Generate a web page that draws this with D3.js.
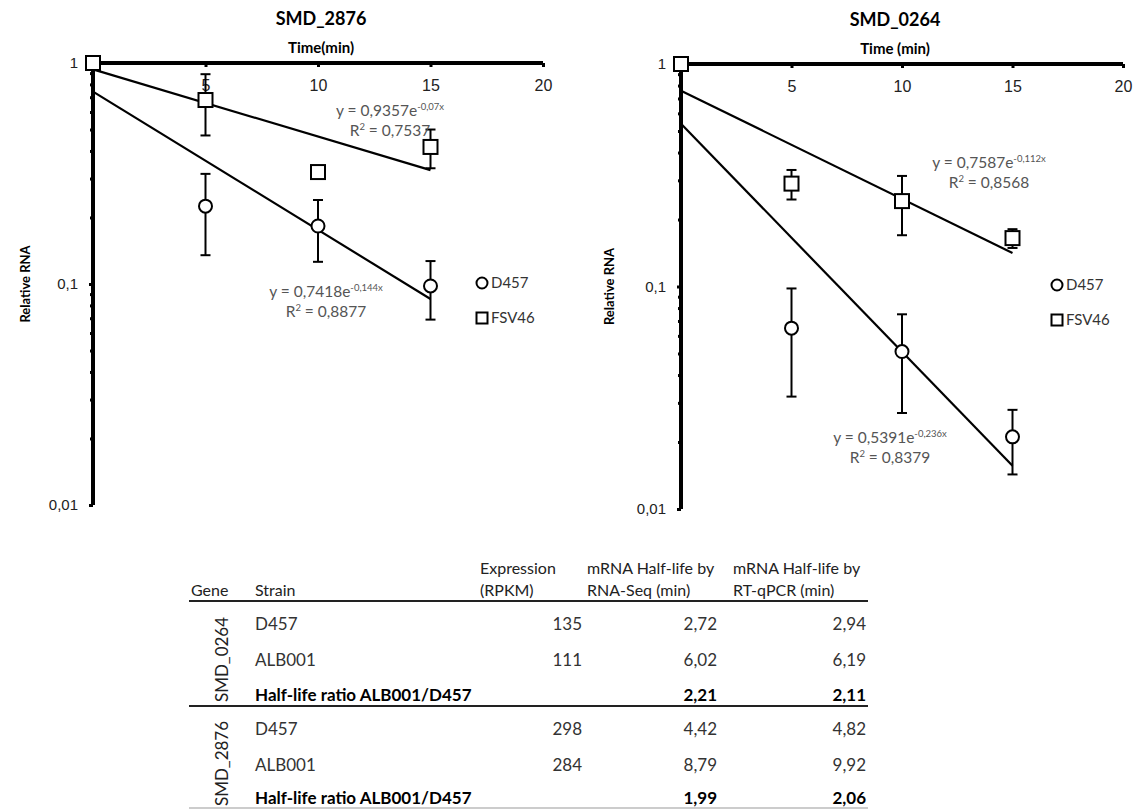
<!DOCTYPE html>
<html>
<head>
<meta charset="utf-8">
<script src="https://cdn.jsdelivr.net/npm/d3@7"></script>
<style>
  body { margin: 0; background: #fff; }
  svg { font-family: Lato, "Open Sans", sans-serif; }
</style>
</head>
<body>
<div id="chart"></div>
<script>
// sampling times (min)
const times = [0, 5, 10, 15];
const seriesNames = ["D457", "FSV46"];

// SMD_2876 relative RNA + error bars
const d457_2876 = [1, 0.225, 0.183, 0.098];
const d457_2876_err = [0, 0.09, 0.057, 0.029];
const fsv_2876 = [1, 0.68, 0.321, 0.417];
const fsv_2876_err = [0, 0.21, 0, 0.083];

// SMD_0264 relative RNA + error bars
const d457_0264 = [1, 0.065, 0.051, 0.0211];
const d457_0264_err = [0, 0.033, 0.024, 0.0068];
const fsv_0264 = [1, 0.29, 0.242, 0.165];
const fsv_0264_err = [0, 0.044, 0.072, 0.016];

// exponential fits: [a, b, R2] for y = a*e^(b x)
const fit_d457_2876 = [0.7418, -0.144, 0.8877];
const fit_fsv_2876 = [0.9357, -0.07, 0.7537];
const fit_d457_0264 = [0.5391, -0.236, 0.8379];
const fit_fsv_0264 = [0.7587, -0.112, 0.8568];

const xTicks = [5, 10, 15, 20];
const yTicks = [1, 0.1, 0.01];

// table
const tableHeader1 = ["", "", "Expression", "mRNA Half-life by", "mRNA Half-life by"];
const tableHeader2 = ["Gene", "Strain", "(RPKM)", "RNA-Seq (min)", "RT-qPCR (min)"];
const tableGenes = ["SMD_0264", "SMD_2876"];
const tableStrains = ["D457", "ALB001", "Half-life ratio ALB001/D457"];
const expr_0264 = [135, 111, null];
const seq_0264 = [2.72, 6.02, 2.21];
const qpcr_0264 = [2.94, 6.19, 2.11];
const expr_2876 = [298, 284, null];
const seq_2876 = [4.42, 8.79, 1.99];
const qpcr_2876 = [4.82, 9.92, 2.06];

const svg = d3.select("#chart").append("svg")
  .attr("width", 1135)
  .attr("height", 810);

const comma = v => String(v).replace(".", ",");
const fmt2 = v => d3.format(".2f")(v).replace(".", ",");

// minor log ticks 2..9 per decade
let minorTicks = [];
[0.01, 0.1].forEach(dec => { for (let k = 2; k <= 9; k++) minorTicks.push(dec * k); });

function drawPanel(opt) {
  let x = d3.scaleLinear().domain([0, 20]).range([opt.x0, opt.x1]);
  let y = d3.scaleLog().domain([0.01, 1]).range([opt.yBot, opt.yTop]);
  let g = svg.append("g");

  // title + axis title
  g.append("text").attr("x", opt.titleX).attr("y", opt.yTop - 38)
    .attr("text-anchor", "middle").attr("font-size", 18).attr("font-weight", "bold")
    .text(opt.title);
  g.append("text").attr("x", opt.titleX).attr("y", opt.yTop - 10)
    .attr("text-anchor", "middle").attr("font-size", 15).attr("font-weight", "bold")
    .text(opt.xTitle);
  g.append("text")
    .attr("transform", `translate(${opt.yTitleX},${(opt.yTop + opt.yBot) / 2}) rotate(-90)`)
    .attr("text-anchor", "middle").attr("font-size", 13).attr("font-weight", "bold")
    .text("Relative RNA");

  // x axis (top, labels under the line)
  let xAxis = g.append("g").attr("transform", `translate(0,${opt.yTop})`)
    .call(d3.axisBottom(x).tickValues(xTicks).tickSize(4).tickSizeOuter(0).tickPadding(13));
  xAxis.select(".domain").attr("stroke-width", 4).attr("d", `M${opt.x0 - 2},0H${opt.x1}`);
  xAxis.selectAll(".tick line").attr("stroke-width", 3);
  xAxis.selectAll("text").attr("font-size", 16).attr("font-family", null).attr("fill", "#222");

  // y axis
  let yAxis = g.append("g").attr("transform", `translate(${opt.x0},0)`)
    .call(d3.axisLeft(y).tickValues(yTicks).tickSize(4).tickSizeOuter(0).tickPadding(11)
      .tickFormat(d => comma(d)));
  yAxis.select(".domain").attr("stroke-width", 4).attr("d", `M0,${opt.yBot}V${opt.yTop}`);
  yAxis.selectAll(".tick line").attr("stroke-width", 3);
  yAxis.selectAll("text").attr("font-size", 15).attr("font-family", null).attr("fill", "#222");
  let yMinor = g.append("g").attr("transform", `translate(${opt.x0},0)`)
    .call(d3.axisLeft(y).tickValues(minorTicks).tickSize(3).tickFormat(""));
  yMinor.select(".domain").remove();
  yMinor.selectAll(".tick line").attr("stroke-width", 3);

  // trend lines
  [opt.fitA, opt.fitB].forEach(f => {
    g.append("line")
      .attr("x1", x(0)).attr("y1", y(f[0]))
      .attr("x2", x(15)).attr("y2", y(f[0] * Math.exp(f[1] * 15)))
      .attr("stroke", "#000").attr("stroke-width", 2.2);
  });

  // error bars
  function errBars(vals, errs) {
    vals.forEach((v, i) => {
      if (!errs[i]) return;
      let lo = Math.max(v - errs[i], 0.001), hi = v + errs[i];
      let cx = x(times[i]);
      g.append("line").attr("x1", cx).attr("x2", cx).attr("y1", y(lo)).attr("y2", y(hi))
        .attr("stroke", "#000").attr("stroke-width", 2);
      [lo, hi].forEach(e => g.append("line").attr("x1", cx - 5).attr("x2", cx + 5)
        .attr("y1", y(e)).attr("y2", y(e)).attr("stroke", "#000").attr("stroke-width", 2));
    });
  }
  errBars(opt.a, opt.aErr);
  errBars(opt.b, opt.bErr);

  // markers
  g.selectAll(".circ").data(opt.a).enter().append("circle")
    .attr("cx", (d, i) => x(times[i])).attr("cy", d => y(d)).attr("r", 6.5)
    .attr("fill", "#fff").attr("stroke", "#000").attr("stroke-width", 2);
  g.selectAll(".sq").data(opt.b).enter().append("rect")
    .attr("x", (d, i) => x(times[i]) - 7).attr("y", d => y(d) - 7)
    .attr("width", 14).attr("height", 14)
    .attr("fill", "#fff").attr("stroke", "#000").attr("stroke-width", 2);

  // fit equations
  function eq(f, cx, by) {
    let t = g.append("text").attr("x", cx).attr("y", by).attr("text-anchor", "middle")
      .attr("font-size", 15.5).attr("fill", "#555");
    t.append("tspan").text("y = " + comma(f[0]) + "e");
    t.append("tspan").attr("font-size", 9.5).attr("dy", -6).text(comma(f[1]) + "x");
    let r = g.append("text").attr("x", cx).attr("y", by + 20).attr("text-anchor", "middle")
      .attr("font-size", 15.5).attr("fill", "#555");
    r.append("tspan").text("R");
    r.append("tspan").attr("font-size", 9.5).attr("dy", -6).text("2");
    r.append("tspan").attr("dy", 6).text(" = " + comma(f[2]));
  }
  eq(opt.fitA, opt.eqA[0], opt.eqA[1]);
  eq(opt.fitB, opt.eqB[0], opt.eqB[1]);

  // legend
  let lx = opt.legX;
  g.append("circle").attr("cx", lx).attr("cy", opt.legY).attr("r", 5.5)
    .attr("fill", "#fff").attr("stroke", "#000").attr("stroke-width", 2);
  g.append("rect").attr("x", lx - 5.5).attr("y", opt.legY + 35 - 5.5).attr("width", 11).attr("height", 11)
    .attr("fill", "#fff").attr("stroke", "#000").attr("stroke-width", 2);
  seriesNames.forEach((s, i) => {
    g.append("text").attr("x", lx + 9).attr("y", opt.legY + i * 35).attr("dy", "0.35em")
      .attr("font-size", 15).attr("fill", "#333").text(s);
  });
}

drawPanel({
  title: "SMD_2876", xTitle: "Time(min)", titleX: 321, yTitleX: 30,
  x0: 93, x1: 543, yTop: 63, yBot: 505,
  a: d457_2876, aErr: d457_2876_err, b: fsv_2876, bErr: fsv_2876_err,
  fitA: fit_d457_2876, fitB: fit_fsv_2876,
  eqA: [326, 297], eqB: [390, 116],
  legX: 482, legY: 283
});

drawPanel({
  title: "SMD_0264", xTitle: "Time (min)", titleX: 895, yTitleX: 614,
  x0: 681, x1: 1123, yTop: 64, yBot: 509,
  a: d457_0264, aErr: d457_0264_err, b: fsv_0264, bErr: fsv_0264_err,
  fitA: fit_d457_0264, fitB: fit_fsv_0264,
  eqA: [890, 443], eqB: [989, 168],
  legX: 1057, legY: 285
});

// ---- table ----
let tbl = svg.append("g").attr("font-size", 17);
let colX = [191, 255, 582, 717, 866];
let headX = [191, 255, 480, 587, 733];
tableHeader1.forEach((h, i) => tbl.append("text").attr("x", headX[i]).attr("y", 568).attr("dy", "0.35em")
  .attr("font-size", 16).attr("fill", "#222").text(h));
tableHeader2.forEach((h, i) => tbl.append("text").attr("x", headX[i]).attr("y", 590).attr("dy", "0.35em")
  .attr("font-size", 16).attr("fill", "#222").text(h));

let rowY = [[624, 660, 695], [729, 765, 798]];
let blocks = [
  [expr_0264, seq_0264, qpcr_0264],
  [expr_2876, seq_2876, qpcr_2876]
];
tableGenes.forEach((gname, b) => {
  let ys = rowY[b];
  tbl.append("text")
    .attr("transform", `translate(222,${(ys[0] + ys[2]) / 2}) rotate(-90)`)
    .attr("text-anchor", "middle").attr("dy", "0.35em").attr("fill", "#222").text(gname);
  tableStrains.forEach((s, r) => {
    let bold = r === 2;
    tbl.append("text").attr("x", colX[1]).attr("y", ys[r]).attr("dy", "0.35em")
      .attr("font-weight", bold ? "bold" : null).attr("fill", bold ? "#000" : "#333").text(s);
    blocks[b].forEach((col, c) => {
      let v = col[r];
      if (v === null) return;
      tbl.append("text").attr("x", colX[c + 2]).attr("y", ys[r]).attr("dy", "0.35em")
        .attr("text-anchor", "end")
        .attr("font-weight", bold ? "bold" : null).attr("fill", bold ? "#000" : "#333")
        .text(c === 0 ? v : fmt2(v));
    });
  });
});

tbl.append("line").attr("x1", 189).attr("x2", 868).attr("y1", 601).attr("y2", 601)
  .attr("stroke", "#222").attr("stroke-width", 2);
tbl.append("line").attr("x1", 189).attr("x2", 868).attr("y1", 706).attr("y2", 706)
  .attr("stroke", "#222").attr("stroke-width", 2);
tbl.append("line").attr("x1", 189).attr("x2", 868).attr("y1", 808).attr("y2", 808)
  .attr("stroke", "#999").attr("stroke-width", 1);
</script>
</body>
</html>
